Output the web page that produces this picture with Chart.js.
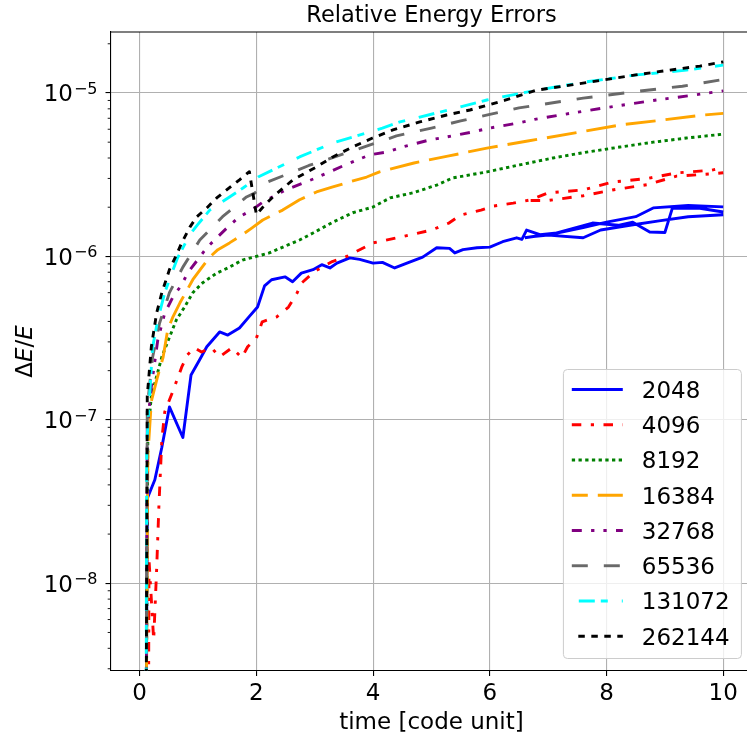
<!DOCTYPE html>
<html>
<head>
<meta charset="utf-8">
<title>Relative Energy Errors</title>
<script src="https://cdn.jsdelivr.net/npm/chart.js@4.4.1/dist/chart.umd.min.js"></script>
<style>
  html, body { margin: 0; padding: 0; background: #fff; }
  #wrap { width: 747px; height: 737px; overflow: hidden; }
  canvas { display: block; }
</style>
</head>
<body>
<div id="wrap"><canvas id="energyChart" width="760" height="737"></canvas></div>
<script>
// ---- data: [time, dE/E]; a null value breaks the line (restarted runs) ----
const runLabels = ['2048', '4096', '8192', '16384', '32768', '65536', '131072', '262144'];

const run2048 = [
  [0.11, 1e-9], [0.13, 3.3e-8], [0.26, 4.3e-8], [0.38, 6.8e-8], [0.51, 1.2e-7], [0.74, 7.8e-8],
  [0.88, 1.88e-7], [1.03, 2.34e-7], [1.15, 2.8e-7], [1.37, 3.45e-7], [1.51, 3.3e-7], [1.71, 3.65e-7],
  [1.88, 4.3e-7], [2.02, 4.9e-7], [2.14, 6.6e-7], [2.26, 7.2e-7], [2.49, 7.5e-7], [2.62, 7.0e-7],
  [2.77, 7.9e-7], [2.97, 8.3e-7], [3.12, 8.9e-7], [3.26, 8.5e-7], [3.38, 9.1e-7], [3.6, 9.8e-7],
  [3.77, 9.6e-7], [4.0, 9.1e-7], [4.16, 9.2e-7], [4.37, 8.5e-7], [4.58, 9.1e-7], [4.85, 9.9e-7],
  [5.09, 1.13e-6], [5.31, 1.12e-6], [5.4, 1.05e-6], [5.54, 1.1e-6], [5.78, 1.13e-6], [6.0, 1.14e-6],
  [6.22, 1.23e-6], [6.46, 1.3e-6], [6.55, 1.27e-6], [6.63, 1.45e-6], [6.86, 1.36e-6], [7.15, 1.39e-6],
  [7.6, 1.5e-6], [8.0, 1.62e-6], [8.5, 1.75e-6], [8.8, 1.98e-6], [9.4, 2.05e-6], [10, 2.01e-6],
  [6.6, null],
  [6.6, 1.3e-6], [7.1, 1.38e-6], [7.76, 1.6e-6], [8.2, 1.55e-6], [8.45, 1.62e-6], [8.74, 1.41e-6],
  [9.0, 1.4e-6], [9.13, 1.98e-6], [9.6, 1.97e-6], [10, 1.87e-6],
  [6.7, null],
  [6.7, 1.32e-6], [7.0, 1.35e-6], [7.6, 1.3e-6], [7.9, 1.45e-6], [8.4, 1.55e-6], [8.9, 1.65e-6],
  [9.4, 1.75e-6], [10, 1.8e-6]
];

const run4096 = [
  [0.15, 1e-9], [0.16, 1.4e-8], [0.24, 4.5e-9], [0.29, 1.2e-8], [0.33, 3e-8], [0.38, 7.6e-8],
  [0.43, 1.12e-7], [0.57, 1.5e-7], [0.72, 2.1e-7], [0.82, 2.5e-7], [0.94, 2.76e-7], [1.06, 2.6e-7],
  [1.23, 2.76e-7], [1.37, 2.43e-7], [1.58, 2.76e-7], [1.75, 2.4e-7], [1.85, 2.8e-7], [2.0, 3.16e-7],
  [2.1, 3.98e-7], [2.35, 4.27e-7], [2.55, 4.9e-7], [2.7, 6.0e-7], [2.78, 6.9e-7], [3.0, 8.1e-7],
  [3.3, 9.3e-7], [3.55, 1.0e-6], [4.0, 1.21e-6], [4.5, 1.32e-6], [5.0, 1.45e-6], [5.3, 1.6e-6],
  [5.5, 1.79e-6], [5.85, 1.92e-6], [6.05, 2.03e-6], [6.4, 2.12e-6], [6.7, 2.22e-6], [7.0, 2.45e-6],
  [7.6, 2.55e-6], [8.1, 2.85e-6], [8.7, 3.0e-6], [9.2, 3.24e-6], [9.8, 3.37e-6], [10, 3.5e-6],
  [6.7, null],
  [6.7, 2.2e-6], [7.0, 2.2e-6], [7.6, 2.35e-6], [8.1, 2.55e-6], [8.7, 2.75e-6], [9.2, 3.1e-6],
  [9.8, 3.2e-6], [10, 3.25e-6]
];

const run8192 = [
  [0.11, 1e-9], [0.14, 8e-8], [0.2, 1.4e-7], [0.3, 1.9e-7], [0.38, 2.43e-7], [0.51, 3.2e-7],
  [0.63, 4.1e-7], [0.77, 4.9e-7], [0.91, 6.0e-7], [1.08, 6.9e-7], [1.32, 7.9e-7], [1.54, 8.6e-7],
  [1.76, 9.5e-7], [2.0, 1.0e-6], [2.22, 1.05e-6], [2.35, 1.1e-6], [2.74, 1.26e-6], [2.97, 1.39e-6],
  [3.31, 1.62e-6], [3.65, 1.85e-6], [3.99, 2.0e-6], [4.29, 2.28e-6], [4.68, 2.45e-6], [5.09, 2.73e-6],
  [5.36, 3.02e-6], [5.95, 3.29e-6], [6.51, 3.63e-6], [7.08, 4.0e-6], [7.66, 4.35e-6], [8.23, 4.67e-6],
  [8.8, 5.0e-6], [9.37, 5.3e-6], [10, 5.6e-6]
];

const run16384 = [
  [0.11, 1e-9], [0.14, 6e-8], [0.2, 1.3e-7], [0.3, 1.8e-7], [0.4, 2.4e-7], [0.48, 3.55e-7],
  [0.57, 4.27e-7], [0.69, 5.2e-7], [0.81, 6.2e-7], [0.91, 7.2e-7], [1.06, 8.5e-7], [1.2, 9.9e-7],
  [1.34, 1.1e-6], [1.54, 1.21e-6], [1.71, 1.32e-6], [1.92, 1.49e-6], [2.11, 1.67e-6], [2.45, 1.92e-6],
  [2.74, 2.22e-6], [3.03, 2.48e-6], [3.31, 2.66e-6], [3.6, 2.86e-6], [3.89, 3.06e-6], [4.11, 3.29e-6],
  [4.7, 3.73e-6], [5.3, 4.12e-6], [5.95, 4.6e-6], [6.65, 5.08e-6], [7.55, 5.77e-6], [8.23, 6.37e-6],
  [8.97, 6.84e-6], [9.65, 7.33e-6], [10, 7.5e-6]
];

const run32768 = [
  [0.11, 1e-9], [0.13, 9e-8], [0.2, 1.6e-7], [0.31, 3.08e-7], [0.43, 4.5e-7], [0.57, 5.65e-7],
  [0.72, 6.7e-7], [0.82, 7.9e-7], [0.99, 9.5e-7], [1.15, 1.13e-6], [1.32, 1.3e-6], [1.51, 1.51e-6],
  [1.71, 1.75e-6], [1.92, 1.92e-6], [2.11, 2.15e-6], [2.5, 2.55e-6], [3.0, 3.0e-6], [3.5, 3.6e-6],
  [3.94, 4.18e-6], [4.23, 4.35e-6], [4.5, 4.67e-6], [4.97, 5.16e-6], [5.26, 5.38e-6], [5.7, 5.77e-6],
  [6.0, 6.1e-6], [6.5, 6.56e-6], [6.77, 6.9e-6], [7.37, 7.5e-6], [8.05, 8.2e-6], [8.8, 9.0e-6],
  [9.4, 9.6e-6], [10, 1.03e-5]
];

const run65536 = [
  [0.11, 1e-9], [0.13, 1.2e-7], [0.22, 2.4e-7], [0.34, 3.9e-7], [0.51, 6.0e-7], [0.74, 8.6e-7],
  [1.03, 1.26e-6], [1.42, 1.75e-6], [1.83, 2.31e-6], [1.97, 2.44e-6], [2.2, 2.86e-6], [2.9, 3.6e-6],
  [3.9, 4.74e-6], [4.4, 5.46e-6], [5.0, 6.1e-6], [5.5, 6.75e-6], [6.0, 7.4e-6], [6.5, 8.1e-6],
  [7.6, 9.3e-6], [8.5, 1.02e-5], [9.3, 1.1e-5], [10, 1.21e-5]
];

const run131072 = [
  [0.11, 1e-9], [0.12, 7e-8], [0.17, 1.4e-7], [0.22, 2.75e-7], [0.31, 4.1e-7], [0.43, 6.0e-7],
  [0.55, 7.9e-7], [0.65, 9.8e-7], [0.86, 1.36e-6], [0.99, 1.56e-6], [1.2, 1.92e-6], [1.54, 2.31e-6],
  [1.77, 2.62e-6], [2.03, 3.06e-6], [2.28, 3.38e-6], [2.74, 4.06e-6], [3.31, 4.94e-6], [3.89, 5.69e-6],
  [4.16, 6.1e-6], [4.46, 6.65e-6], [5.09, 7.55e-6], [5.95, 9.06e-6], [6.8, 1.04e-5], [7.66, 1.17e-5],
  [8.52, 1.29e-5], [9.37, 1.38e-5], [10, 1.48e-5]
];

const run262144 = [
  [0.11, 1e-9], [0.13, 1.4e-7], [0.2, 2.8e-7], [0.29, 4.5e-7], [0.38, 6.0e-7], [0.51, 8.3e-7],
  [0.63, 1.02e-6], [0.72, 1.21e-6], [0.86, 1.51e-6], [0.98, 1.75e-6], [1.15, 1.98e-6], [1.32, 2.28e-6],
  [1.49, 2.55e-6], [1.71, 2.94e-6], [1.88, 3.3e-6], [2.0, 1.8e-6], [2.11, 2.0e-6], [2.28, 2.31e-6],
  [2.62, 2.93e-6], [3.03, 3.53e-6], [3.31, 4.06e-6], [3.65, 4.68e-6], [3.99, 5.3e-6], [4.34, 5.94e-6],
  [4.8, 6.65e-6], [5.26, 7.33e-6], [5.66, 7.87e-6], [6.25, 9.0e-6], [6.8, 1.04e-5], [7.4, 1.12e-5],
  [7.93, 1.2e-5], [8.5, 1.29e-5], [9.08, 1.38e-5], [9.6, 1.46e-5], [10, 1.55e-5]
];

const xTicks = [0, 2, 4, 6, 8, 10];
const yTicks = [1e-8, 1e-7, 1e-6, 1e-5];
const yTickExponents = ['\u22128', '\u22127', '\u22126', '\u22125'];

// ---- line styles, in plotting order ----
const runs = [run2048, run4096, run8192, run16384, run32768, run65536, run131072, run262144];
const styles = [
  { color: '#0000ff', dash: [] },
  { color: '#ff0000', dash: [9.5, 9.5, 3.2, 9.5] },
  { color: '#008000', dash: [3.3, 3.4] },
  { color: '#ffa500', dash: [30, 10], offset: 14 },
  { color: '#800080', dash: [10, 9.3, 3.3, 9, 3.3, 9.3] },
  { color: '#696969', dash: [16, 16] },
  { color: '#00ffff', dash: [16, 6, 7, 14], offset: 36 },
  { color: '#000000', dash: [6.5, 6.5], offset: 6.5 }
];

const FONT = "'DejaVu Sans', 'Liberation Sans', sans-serif";
const LW = 2.9;

Chart.defaults.font.family = FONT;
Chart.defaults.color = '#000';

const datasets = runs.map((run, i) => ({
  label: runLabels[i],
  data: run.map(([t, v]) => ({ x: t, y: v })),
  borderColor: styles[i].color,
  borderDash: styles[i].dash,
  borderDashOffset: styles[i].offset || 0,
  borderWidth: LW,
  borderJoinStyle: 'round',
  pointRadius: 0,
  tension: 0,
  fill: false,
  clip: 0,
  order: runs.length - i
}));

// top spine, short minor ticks and 10^n labels on the log axis
const framePlugin = {
  id: 'frame',
  afterDraw(chart) {
    const { ctx, chartArea: a, scales: { y } } = chart;
    ctx.save();
    ctx.strokeStyle = '#000';
    ctx.lineWidth = 1.1;
    ctx.beginPath();
    ctx.moveTo(a.left, a.top);
    ctx.lineTo(a.right, a.top);
    ctx.stroke();
    ctx.lineWidth = 0.9;
    ctx.beginPath();
    for (let e = -9; e <= -5; e++) {
      for (let m = 2; m <= 9; m++) {
        const v = m * Math.pow(10, e);
        if (v < y.min || v > y.max) continue;
        const py = y.getPixelForValue(v);
        ctx.moveTo(a.left, py);
        ctx.lineTo(a.left - 2.8, py);
      }
    }
    ctx.stroke();

    ctx.fillStyle = '#000';
    ctx.textBaseline = 'alphabetic';
    yTicks.forEach((v, i) => {
      const py = y.getPixelForValue(v);
      ctx.font = `16px ${FONT}`;
      ctx.textAlign = 'right';
      ctx.fillText(yTickExponents[i], a.left - 13, py + 1);
      const expW = ctx.measureText(yTickExponents[i]).width;
      ctx.font = `23px ${FONT}`;
      ctx.fillText('10', a.left - 14 - expW, py + 8.5);
    });
    ctx.restore();
  }
};

// y axis title with italic E's
const yTitlePlugin = {
  id: 'yTitle',
  afterDraw(chart) {
    const { ctx, chartArea: a } = chart;
    const parts = [['\u0394', ''], ['E', 'italic '], ['/', ''], ['E', 'italic ']];
    ctx.save();
    ctx.translate(32, (a.top + a.bottom) / 2);
    ctx.rotate(-Math.PI / 2);
    ctx.fillStyle = '#000';
    ctx.textBaseline = 'alphabetic';
    let total = 0;
    parts.forEach(([txt, st]) => { ctx.font = `${st}23px ${FONT}`; total += ctx.measureText(txt).width; });
    let x = -total / 2;
    parts.forEach(([txt, st]) => {
      ctx.font = `${st}23px ${FONT}`;
      ctx.fillText(txt, x, 0);
      x += ctx.measureText(txt).width;
    });
    ctx.restore();
  }
};

// framed legend in the lower right corner of the plot
const boxLegendPlugin = {
  id: 'boxLegend',
  afterDraw(chart) {
    const { ctx, chartArea: a } = chart;
    const sets = chart.data.datasets;
    const w = 178, h = 289, rowH = 35.25;
    const x0 = a.right - 11 - w;
    const y0 = a.bottom - 12.5 - h;
    ctx.save();
    ctx.beginPath();
    ctx.roundRect(x0, y0, w, h, 4);
    ctx.fillStyle = 'rgba(255,255,255,0.8)';
    ctx.fill();
    ctx.strokeStyle = '#cccccc';
    ctx.lineWidth = 1;
    ctx.stroke();
    ctx.font = `23px ${FONT}`;
    sets.forEach((d, i) => {
      const cy = y0 + 20 + i * rowH;
      ctx.beginPath();
      ctx.setLineDash(d.borderDash);
      ctx.lineDashOffset = d.borderDashOffset;
      ctx.strokeStyle = d.borderColor;
      ctx.lineWidth = d.borderWidth;
      ctx.moveTo(x0 + 8.4, cy);
      ctx.lineTo(x0 + 59.4, cy);
      ctx.stroke();
      ctx.setLineDash([]);
      ctx.fillStyle = '#000';
      ctx.textBaseline = 'alphabetic';
      ctx.fillText(d.label, x0 + 78.4, cy + 8.4);
    });
    ctx.restore();
  }
};

const gridOpts = { color: '#b0b0b0', lineWidth: 1.1, tickColor: '#000', tickLength: 5, tickWidth: 1.1 };

new Chart(document.getElementById('energyChart'), {
  type: 'line',
  data: { datasets },
  options: {
    responsive: false,
    animation: false,
    events: [],
    layout: { padding: { left: 0, right: 7.6, top: 0, bottom: 0 } },
    plugins: {
      legend: { display: false },
      tooltip: { enabled: false },
      title: {
        display: true,
        text: 'Relative Energy Errors',
        fullSize: false,
        color: '#000',
        font: { size: 22.5, weight: 'normal' },
        padding: { top: 3, bottom: 2 }
      }
    },
    scales: {
      x: {
        type: 'linear',
        min: -0.5,
        max: 10.5,
        afterBuildTicks: s => { s.ticks = xTicks.map(v => ({ value: v })); },
        afterFit: s => { s.height = 66; },
        ticks: { font: { size: 23 }, color: '#000', padding: 4, maxRotation: 0, autoSkip: false,
                 callback: v => String(v) },
        grid: gridOpts,
        border: { color: '#000', width: 1.1 },
        title: { display: true, text: 'time [code unit]', color: '#000', font: { size: 23 },
                 padding: { top: 0, bottom: 0 } }
      },
      y: {
        type: 'logarithmic',
        min: 2.906e-9,
        max: 2.361e-5,
        afterBuildTicks: s => { s.ticks = yTicks.map(v => ({ value: v, major: true })); },
        afterFit: s => { s.width = 110.5; },
        ticks: { display: false },
        grid: gridOpts,
        border: { color: '#000', width: 1.1 }
      }
    }
  },
  plugins: [framePlugin, yTitlePlugin, boxLegendPlugin]
});
</script>
</body>
</html>
